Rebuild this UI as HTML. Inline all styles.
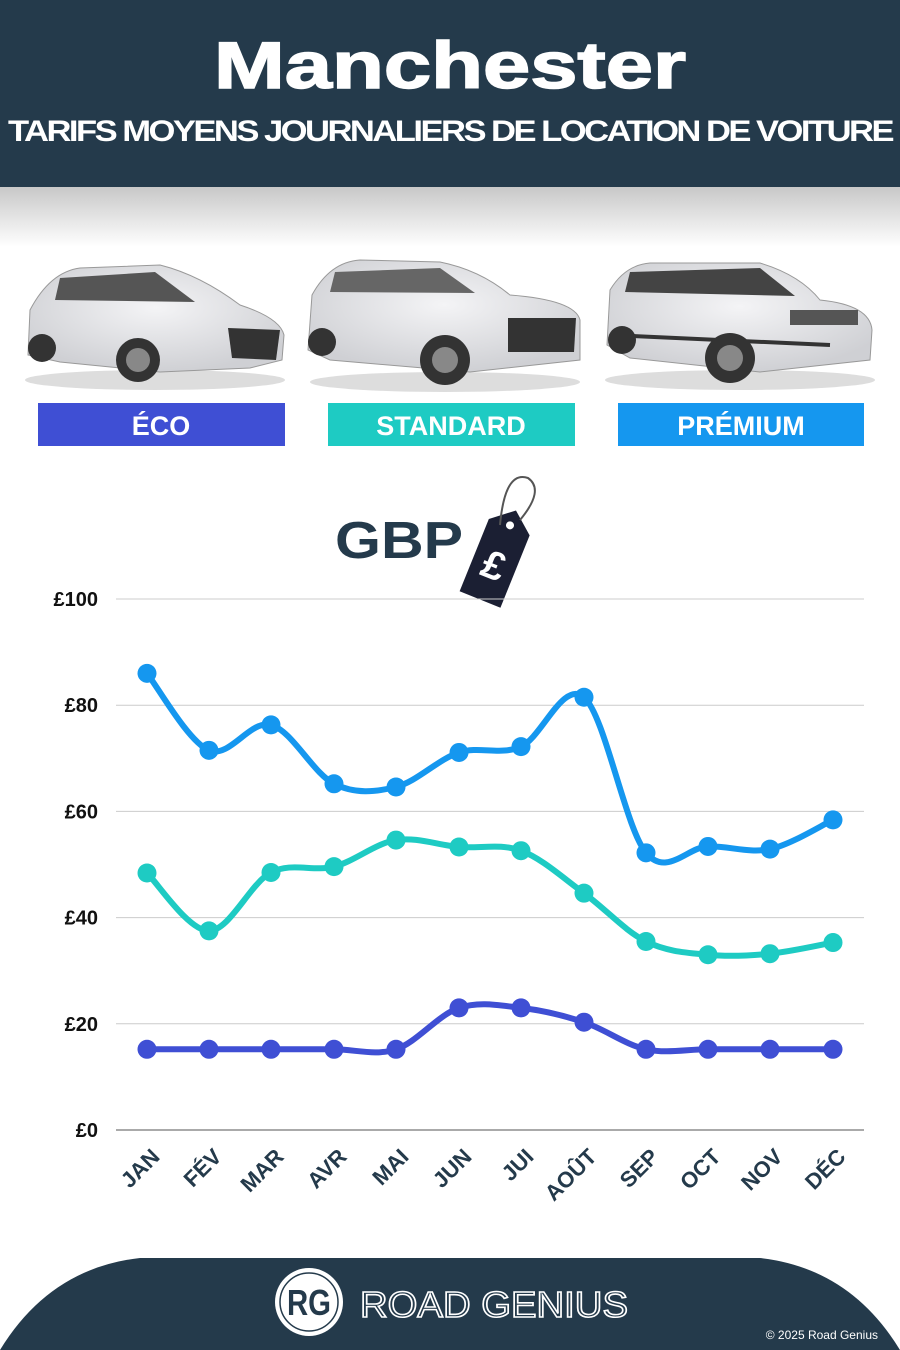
<!DOCTYPE html>
<html><head><meta charset="utf-8"><style>
html,body{margin:0;padding:0;background:#fff;}
svg{display:block;font-family:"Liberation Sans",sans-serif;}
</style></head><body>
<svg id="s" width="900" height="1350" viewBox="0 0 900 1350" xmlns="http://www.w3.org/2000/svg">
<defs>
<linearGradient id="sh" x1="0" y1="0" x2="0" y2="1">
<stop offset="0" stop-color="#c8c8c8"/><stop offset="1" stop-color="#fff"/>
</linearGradient>
<radialGradient id="cg" cx="0.5" cy="0.4" r="0.6"><stop offset="0" stop-color="#f4f4f6"/><stop offset="1" stop-color="#cfd0d4"/></radialGradient>
</defs>
<rect width="900" height="187" fill="#243a4b"/>
<rect y="187" width="900" height="60" fill="url(#sh)"/>
<text x="450" y="88" text-anchor="middle" font-size="66" font-weight="bold" fill="#fff" stroke="#fff" stroke-width="1.5" textLength="472" lengthAdjust="spacingAndGlyphs">Manchester</text>
<text x="450" y="141" text-anchor="middle" font-size="30" font-weight="bold" fill="#fff" letter-spacing="-2.2" textLength="884" lengthAdjust="spacingAndGlyphs">TARIFS MOYENS JOURNALIERS DE LOCATION DE VOITURE</text>

<g>
<ellipse cx="155" cy="380" rx="130" ry="10" fill="#ddd"/>
<path d="M28 355 L30 310 Q50 272 80 268 L160 265 Q200 275 240 305 Q280 318 284 335 L282 360 L250 368 L160 372 L60 362 Z" fill="url(#cg)" stroke="#999"/>
<path d="M60 278 L155 272 L195 302 L55 300 Z" fill="#555"/>
<path d="M228 328 L280 330 L276 360 L232 358 Z" fill="#333"/>
<circle cx="138" cy="360" r="22" fill="#333"/><circle cx="138" cy="360" r="12" fill="#888"/>
<circle cx="42" cy="348" r="14" fill="#333"/>
</g>
<g>
<ellipse cx="445" cy="382" rx="135" ry="10" fill="#ddd"/>
<path d="M308 350 L312 295 Q330 262 360 260 L440 262 Q480 270 510 295 Q575 300 580 320 L580 360 L470 372 L330 360 Z" fill="url(#cg)" stroke="#999"/>
<path d="M335 272 L440 268 L475 293 L330 292 Z" fill="#666"/>
<path d="M508 318 L576 318 L574 352 L508 352 Z" fill="#333"/>
<circle cx="445" cy="360" r="25" fill="#333"/><circle cx="445" cy="360" r="13" fill="#888"/>
<circle cx="322" cy="342" r="14" fill="#333"/>
</g>
<g>
<ellipse cx="740" cy="380" rx="135" ry="10" fill="#ddd"/>
<path d="M607 345 L610 290 Q625 265 650 263 L760 263 Q800 275 820 300 Q870 305 872 330 L870 360 L760 372 L630 358 Z" fill="url(#cg)" stroke="#999"/>
<path d="M630 272 L760 268 L795 296 L625 292 Z" fill="#444"/>
<path d="M790 310 L858 310 L858 325 L790 325 Z" fill="#555"/>
<path d="M610 335 L830 345" stroke="#333" stroke-width="4"/>
<circle cx="730" cy="358" r="25" fill="#333"/><circle cx="730" cy="358" r="13" fill="#888"/>
<circle cx="622" cy="340" r="14" fill="#333"/>
</g>

<rect x="38" y="403" width="247" height="43" fill="#3f4fd4"/>
<rect x="328" y="403" width="247" height="43" fill="#1ecbc3"/>
<rect x="618" y="403" width="246" height="43" fill="#1597ef"/>
<text x="161" y="435" text-anchor="middle" font-size="27" font-weight="bold" fill="#fff">ÉCO</text>
<text x="451" y="435" text-anchor="middle" font-size="27" font-weight="bold" fill="#fff">STANDARD</text>
<text x="741" y="435" text-anchor="middle" font-size="27" font-weight="bold" fill="#fff">PRÉMIUM</text>

<text x="335" y="558" font-size="52" font-weight="bold" fill="#243a4b" textLength="128" lengthAdjust="spacingAndGlyphs">GBP</text>
<g transform="translate(498,555) rotate(22)">
<path d="M-22 -30 L0 -48 L22 -30 L22 48 L-22 48 Z" fill="#1b1f33"/>
<circle cx="0" cy="-32" r="4" fill="#fff"/>
<text x="0" y="25" text-anchor="middle" font-size="40" font-weight="bold" fill="#fff">£</text>
</g>
<path d="M500 525 Q505 470 528 478 Q545 490 520 520" fill="none" stroke="#555" stroke-width="2"/>

<g id="grid" stroke="#ccc" stroke-width="1"></g>
<g id="lines"></g>
<g font-size="20" font-weight="bold" fill="#111" text-anchor="end" id="yl"></g>
<g font-size="22" font-weight="bold" fill="#243a4b" id="xl"></g>

<path d="M0 1350 Q50 1268 140 1258 L760 1258 Q850 1268 900 1350 Z" fill="#243a4b"/>
<circle cx="309" cy="1302" r="34" fill="#fff"/>
<circle cx="309" cy="1302" r="29" fill="none" stroke="#243a4b" stroke-width="1.5"/>
<text x="309" y="1315" text-anchor="middle" font-size="36" font-weight="bold" fill="#243a4b" textLength="44" lengthAdjust="spacingAndGlyphs">RG</text>
<text x="360" y="1317" font-size="36" fill="none" stroke="#fff" stroke-width="1.6" textLength="268" lengthAdjust="spacingAndGlyphs">ROAD GENIUS</text>
<text x="878" y="1339" text-anchor="end" font-size="12" fill="#fff">© 2025 Road Genius</text>
</svg>
<script>
var NS="http://www.w3.org/2000/svg";
function el(t,a,p){var e=document.createElementNS(NS,t);for(var k in a)e.setAttribute(k,a[k]);p.appendChild(e);return e;}
var X=[147,209,271,334,396,459,521,584,646,708,770,833];
function Y(v){return 1130-v*5.31;}
var g=document.getElementById('grid'),yl=document.getElementById('yl'),xl=document.getElementById('xl'),L=document.getElementById('lines');
for(var v=0;v<=100;v+=20){el('line',{x1:116,x2:864,y1:Y(v),y2:Y(v),stroke:v==0?'#555':'#ccc'},g);
var t=el('text',{x:98,y:Y(v)+7},yl);t.textContent='£'+v;}
var M=['JAN','FÉV','MAR','AVR','MAI','JUN','JUI','AOÛT','SEP','OCT','NOV','DÉC'];
M.forEach(function(m,i){var t=el('text',{x:0,y:0,'text-anchor':'end',transform:'translate('+(X[i]+14)+',1158) rotate(-45)'},xl);t.textContent=m;});
var D=[[86,71.5,76.3,65.2,64.6,71.1,72.2,81.5,52.2,53.4,52.9,58.4,'#1597ef'],
[48.4,37.5,48.5,49.6,54.6,53.3,52.6,44.6,35.5,33,33.2,35.3,'#1ecbc3'],
[15.2,15.2,15.2,15.2,15.2,23,23,20.3,15.2,15.2,15.2,15.2,'#3f4fd4']];
D.forEach(function(d){var c=d[12];var P=X.map(function(x,i){return [x,Y(d[i])];});
var s='M'+P[0][0]+' '+P[0][1];
for(var i=0;i<11;i++){var p0=P[Math.max(0,i-1)],p1=P[i],p2=P[i+1],p3=P[Math.min(11,i+2)];
s+=' C'+(p1[0]+(p2[0]-p0[0])/6)+' '+(p1[1]+(p2[1]-p0[1])/6)+' '+(p2[0]-(p3[0]-p1[0])/6)+' '+(p2[1]-(p3[1]-p1[1])/6)+' '+p2[0]+' '+p2[1];}
el('path',{d:s,fill:'none',stroke:c,'stroke-width':6},L);
P.forEach(function(p){el('circle',{cx:p[0],cy:p[1],r:9.5,fill:c},L);});});
</script>
</body></html>
